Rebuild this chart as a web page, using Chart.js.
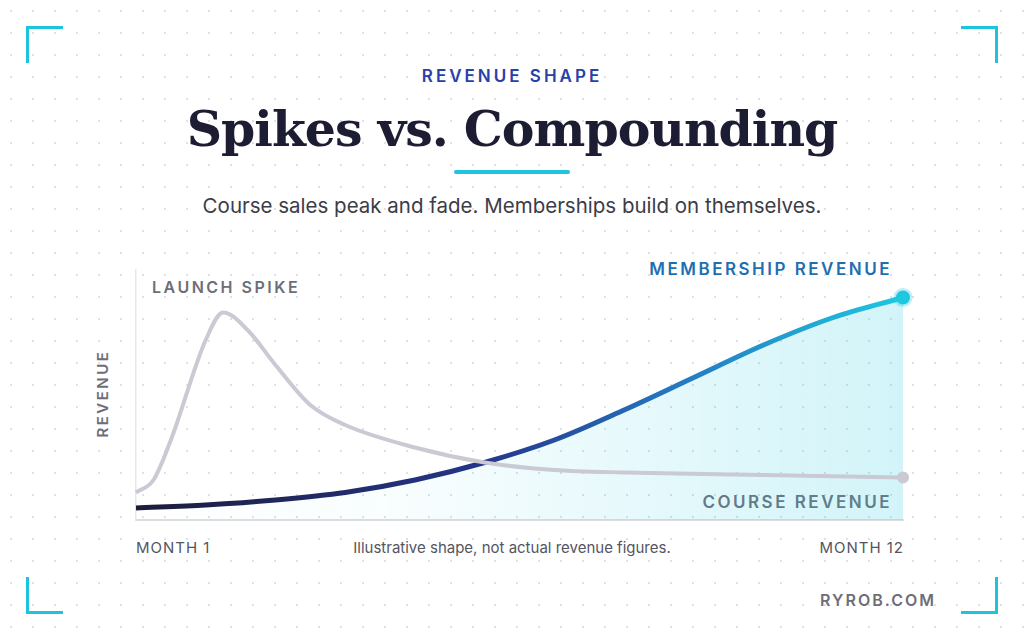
<!DOCTYPE html>
<html><head><meta charset="utf-8">
<script src="https://cdn.jsdelivr.net/npm/chart.js@4"></script>
<style>
body{margin:0;width:1024px;height:640px;overflow:hidden;background:#fff;font-family:Inter,"Open Sans",sans-serif;position:relative;
background-image:radial-gradient(#dfe1e6 1px,transparent 1.2px);background-size:22px 22px;}
.abs{position:absolute}
.br{position:absolute;width:34px;height:34px;border-color:#1ec4dc;border-style:solid;border-width:0}
#wrap{position:absolute;left:116px;top:250px;width:807px;height:290px}
.lab{position:absolute;font-weight:600;letter-spacing:2.5px;font-size:16px;color:#6e6e78}
</style></head><body>
<div class="br" style="left:26px;top:26px;border-left-width:3px;border-top-width:3px"></div>
<div class="br" style="right:26px;top:26px;border-right-width:3px;border-top-width:3px"></div>
<div class="br" style="left:26px;bottom:26px;border-left-width:3px;border-bottom-width:3px"></div>
<div class="br" style="right:26px;bottom:26px;border-right-width:3px;border-bottom-width:3px"></div>
<div class="abs" style="left:0;width:1024px;top:66px;text-align:center;color:#2741a8;font-weight:600;font-size:17px;letter-spacing:3px">REVENUE SHAPE</div>
<div class="abs" style="left:0;width:1024px;top:100px;text-align:center;color:#1c1d33;font-family:'DejaVu Serif',serif;font-weight:bold;font-size:49px;letter-spacing:-1px">Spikes vs. Compounding</div>
<div class="abs" style="left:454px;top:170px;width:116px;height:4px;background:#1ec4dc;border-radius:2px"></div>
<div class="abs" style="left:0;width:1024px;top:193px;text-align:center;color:#3c3c46;font-size:20.5px">Course sales peak and fade. Memberships build on themselves.</div>
<div class="lab" style="left:152px;top:277px">LAUNCH SPIKE</div>
<div class="lab" style="right:132px;top:259px;color:#1f6fb0;font-size:17px">MEMBERSHIP REVENUE</div>
<div class="lab" style="right:132px;top:492px;font-size:17px">COURSE REVENUE</div>
<div class="lab" style="left:62px;top:388px;transform:rotate(-90deg);transform-origin:center;width:80px;text-align:center;font-size:15px">REVENUE</div>
<div class="abs" style="left:136px;top:538px;color:#55555f;font-size:15px;letter-spacing:1px">MONTH 1</div>
<div class="abs" style="left:0;width:1024px;text-align:center;top:538px;color:#55555f;font-size:15px">Illustrative shape, not actual revenue figures.</div>
<div class="abs" style="right:120px;top:538px;color:#55555f;font-size:15px;letter-spacing:1px">MONTH 12</div>
<div class="abs" style="right:88px;top:590px;color:#6e6e78;font-weight:600;font-size:16px;letter-spacing:2px">RYROB.COM</div>
<div id="wrap"><canvas id="c"></canvas></div>
<script>
const membershipMonths=[1,2,3,4,5,6,7,8,9,10,11,12];
const membershipValues=[4.8,6,8,11,16,23,32,44,57,70,81,89];
const courseMonths=[1,1.25,1.5,2,2.25,2.6,3,3.5,4,5,6,7,8,10,12];
const courseValues=[11,16,32,72,83,76,62,46,38,29,23,20,19,18,17];
const mem=membershipMonths.map((x,i)=>({x,y:membershipValues[i]}));
const crs=courseMonths.map((x,i)=>({x,y:courseValues[i]}));
function strokeGrad(ctx){const a=ctx.chart.chartArea;if(!a)return '#1ec4dc';
 const g=ctx.chart.ctx.createLinearGradient(a.left,0,a.right,0);
 g.addColorStop(0,'#1c1d3a');g.addColorStop(0.45,'#25358a');g.addColorStop(0.7,'#2577c0');g.addColorStop(1,'#1ec8e0');return g;}
function fillGrad(ctx){const a=ctx.chart.chartArea;if(!a)return 'rgba(30,200,224,0.15)';
 const g=ctx.chart.ctx.createLinearGradient(a.left,0,a.right,0);
 g.addColorStop(0,'rgba(30,200,224,0)');g.addColorStop(0.35,'rgba(30,200,224,0.03)');g.addColorStop(1,'rgba(30,200,224,0.2)');return g;}
new Chart(document.getElementById('c'),{type:'line',
data:{datasets:[
{data:crs,borderColor:'#c9cad4',borderWidth:4,cubicInterpolationMode:'monotone',fill:false,
 pointRadius:c=>c.dataIndex===crs.length-1?6:0,pointBackgroundColor:'#c9cad4',pointBorderWidth:0,clip:false},
{data:mem,borderColor:strokeGrad,borderWidth:5,cubicInterpolationMode:'monotone',fill:'origin',backgroundColor:fillGrad,
 pointRadius:c=>c.dataIndex===mem.length-1?7:0,pointBackgroundColor:'#1ec8e0',pointBorderColor:'rgba(30,200,224,0.3)',pointBorderWidth:5,clip:false}
]},
options:{responsive:true,maintainAspectRatio:false,animation:false,layout:{padding:20},
plugins:{legend:{display:false},tooltip:{enabled:false}},
scales:{x:{type:'linear',min:1,max:12,ticks:{display:false},grid:{display:false,drawTicks:false},border:{display:true,color:'#dcdde3',width:2}},
y:{min:0,max:100,ticks:{display:false},grid:{display:false,drawTicks:false},border:{display:true,color:'#e6e7ec',width:1.5}}}}});
</script></body></html>
